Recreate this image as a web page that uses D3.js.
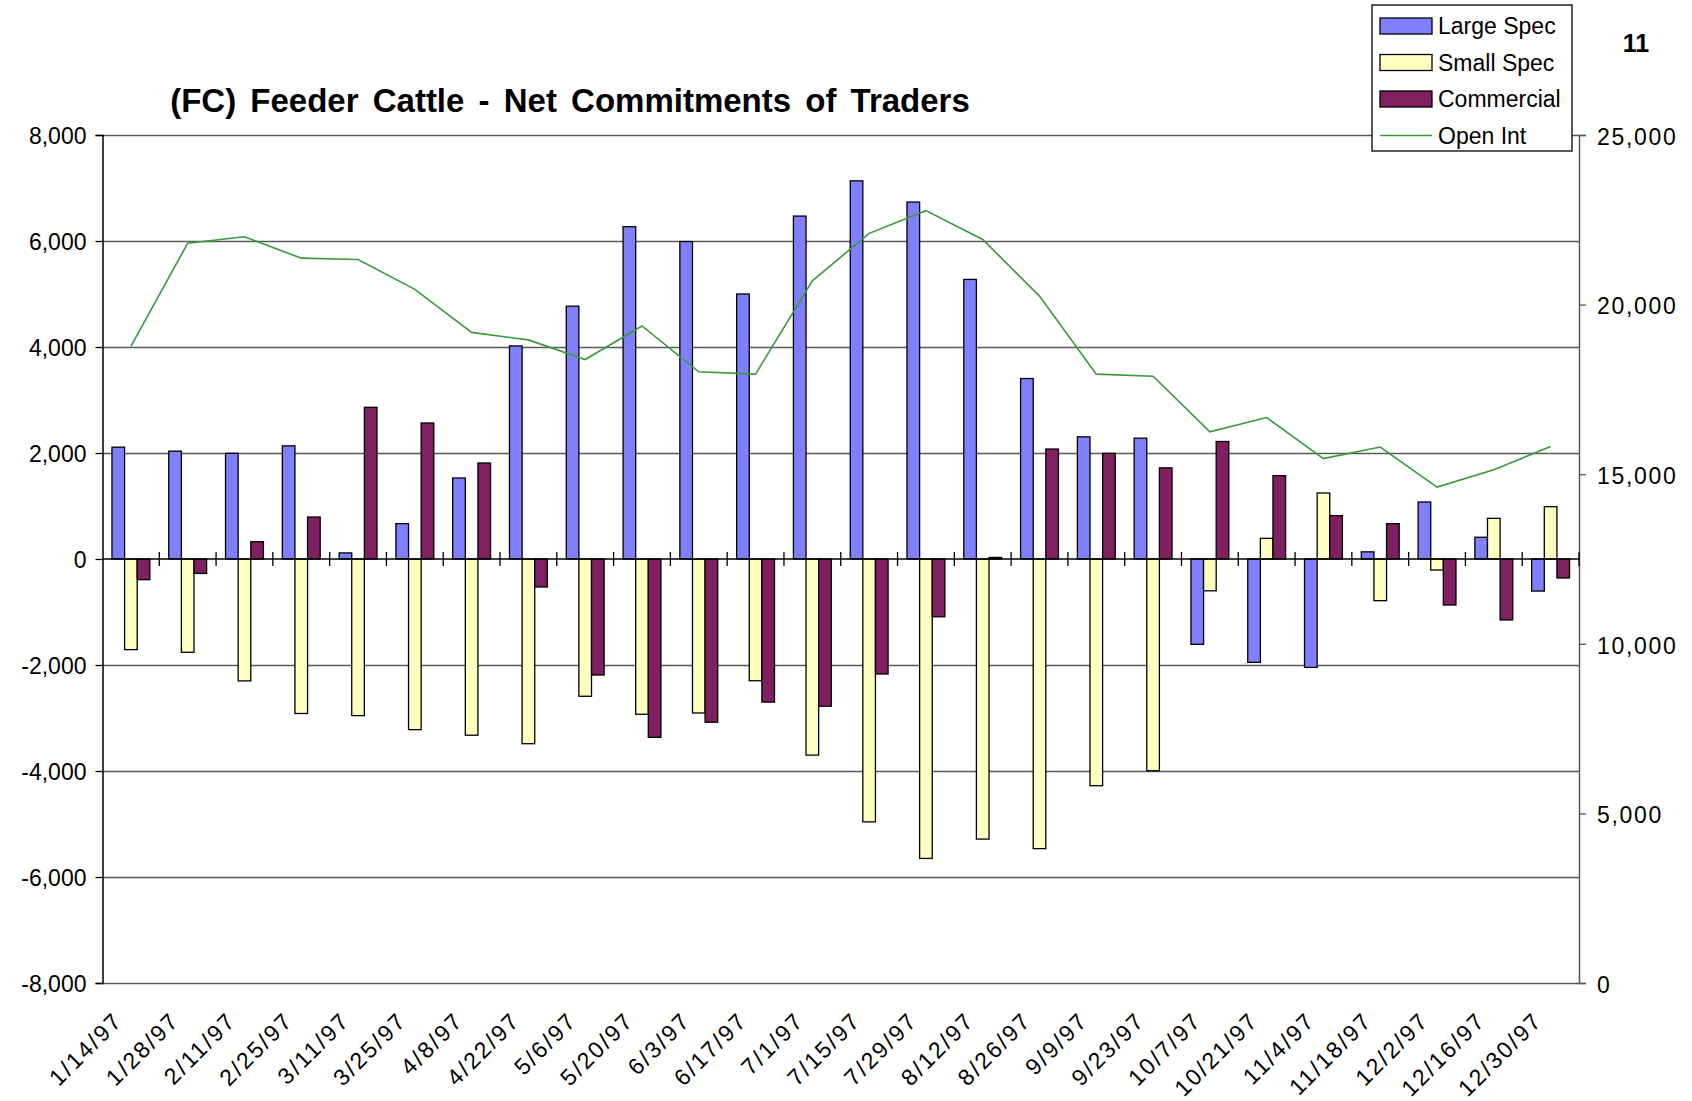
<!DOCTYPE html>
<html>
<head>
<meta charset="utf-8">
<script src="https://cdn.jsdelivr.net/npm/d3@7"></script>
<style>
  body { margin: 0; background: #fff; }
  text { font-family: "Liberation Sans", Arial, sans-serif; fill: #000; }
</style>
</head>
<body>
<div id="chart"></div>
<script>
// categories (weekly report dates)
const dates = ['1/14/97', '1/28/97', '2/11/97', '2/25/97', '3/11/97', '3/25/97', '4/8/97', '4/22/97',
  '5/6/97', '5/20/97', '6/3/97', '6/17/97', '7/1/97', '7/15/97', '7/29/97', '8/12/97', '8/26/97',
  '9/9/97', '9/23/97', '10/7/97', '10/21/97', '11/4/97', '11/18/97', '12/2/97', '12/16/97', '12/30/97'];

const largeSpec = [2110, 2035, 1995, 2135, 115, 667, 1528, 4020, 4770, 6270, 5990, 5000, 6470, 7135,
  6735, 5275, 3405, 2305, 2280, -1610, -1950, -2045, 135, 1075, 410, -605];
const smallSpec = [-1710, -1760, -2300, -2915, -2955, -3220, -3325, -3485, -2590, -2930, -2905, -2297,
  -3700, -4960, -5650, -5285, -5465, -4278, -3995, -600, 390, 1245, -786, -208, 767, 987];
const commercial = [-390, -272, 327, 792, 2862, 2566, 1811, -528, -2189, -3365, -3080, -2700, -2777,
  -2170, -1090, 30, 2075, 1994, 1720, 2217, 1572, 818, 667, -868, -1150, -358];
const openInt = [18770, 21810, 22000, 21370, 21330, 20450, 19180, 18960, 18380, 19370, 18020, 17950,
  20700, 22100, 22770, 21920, 20250, 17950, 17890, 16250, 16670, 15460, 15800, 14620, 15130, 15820];

const leftTicks = [-8000, -6000, -4000, -2000, 0, 2000, 4000, 6000, 8000];
const rightTicks = [0, 5000, 10000, 15000, 20000, 25000];

const seriesNames = ['Large Spec', 'Small Spec', 'Commercial'];
const seriesValues = [largeSpec, smallSpec, commercial];
const seriesColors = ['#8080ff', '#ffffc0', '#802060'];
const lineColor = '#3a9a3a';

const W = 1692, H = 1101;
const margin = { top: 135, right: W - 1579, bottom: H - 983, left: 102.5 };

// thousands separator, plain hyphen for negatives
const fmt = v => d3.format(',')(v).replace('\u2212', '-');

const svg = d3.select('#chart').append('svg')
  .attr('width', W).attr('height', H);

const x = d3.scaleBand().domain(dates).range([margin.left, W - margin.right]).padding(0);
const x1 = d3.scaleBand().domain(seriesNames).range([0, x.bandwidth()])
  .paddingInner(0).paddingOuter(0.75);
const y = d3.scaleLinear().domain([-8000, 8000]).range([H - margin.bottom, margin.top]);
const y2 = d3.scaleLinear().domain([0, 25000]).range([H - margin.bottom, margin.top]);

// gridlines
svg.append('g')
  .selectAll('line')
  .data(leftTicks.filter(t => t !== 0))
  .join('line')
  .attr('x1', margin.left).attr('x2', W - margin.right)
  .attr('y1', d => Math.round(y(d)) + 0.5).attr('y2', d => Math.round(y(d)) + 0.5)
  .attr('stroke', '#5a5a5a').attr('stroke-width', 1.3);

// left axis
const leftAxis = svg.append('g')
  .attr('transform', `translate(${margin.left},0)`)
  .call(d3.axisLeft(y).tickValues(leftTicks).tickFormat(fmt).tickSize(7).tickPadding(9));
leftAxis.select('.domain').attr('stroke', '#000').attr('stroke-width', 1.5);
leftAxis.selectAll('.tick line').attr('stroke', '#000').attr('stroke-width', 1.3);
leftAxis.selectAll('text').style('font-size', '23px').attr('dy', '0.36em');

// right axis
const rightAxis = svg.append('g')
  .attr('transform', `translate(${W - margin.right},0)`)
  .call(d3.axisRight(y2).tickValues(rightTicks).tickFormat(fmt).tickSize(7).tickPadding(11));
rightAxis.select('.domain').attr('stroke', '#555').attr('stroke-width', 1.5);
rightAxis.selectAll('.tick line').attr('stroke', '#555').attr('stroke-width', 1.3);
rightAxis.selectAll('text').style('font-size', '23px').style('letter-spacing', '1.7px').attr('dy', '0.4em');

// bars
const groups = svg.append('g')
  .selectAll('g')
  .data(dates)
  .join('g')
  .attr('transform', d => `translate(${x(d)},0)`);

groups.selectAll('rect')
  .data((d, i) => seriesNames.map((s, k) => ({ s, k, v: seriesValues[k][i] })))
  .join('rect')
  .attr('x', d => x1(d.s))
  .attr('width', x1.bandwidth())
  .attr('y', d => y(Math.max(0, d.v)))
  .attr('height', d => Math.abs(y(d.v) - y(0)))
  .attr('fill', d => seriesColors[d.k])
  .attr('stroke', '#000')
  .attr('stroke-width', 1.3);

// category axis on the zero line, ticks crossing
const zeroY = y(0);
svg.append('line')
  .attr('x1', margin.left).attr('x2', W - margin.right)
  .attr('y1', zeroY).attr('y2', zeroY)
  .attr('stroke', '#000').attr('stroke-width', 1.5);
svg.append('g')
  .selectAll('line')
  .data(dates)
  .join('line')
  .attr('x1', d => x(d) + x.bandwidth())
  .attr('x2', d => x(d) + x.bandwidth())
  .attr('y1', zeroY - 7).attr('y2', zeroY + 7)
  .attr('stroke', '#000').attr('stroke-width', 1.3);

// category labels
svg.append('g')
  .selectAll('text')
  .data(dates)
  .join('text')
  .attr('transform', d => `translate(${x(d) + x.bandwidth() / 2 - 7},1022) rotate(-45)`)
  .attr('text-anchor', 'end')
  .style('font-size', '23px')
  .style('letter-spacing', '2.2px')
  .text(d => d);

// open interest line
svg.append('path')
  .datum(openInt)
  .attr('fill', 'none')
  .attr('stroke', lineColor)
  .attr('stroke-width', 1.6)
  .attr('d', d3.line()
    .x((d, i) => x(dates[i]) + x.bandwidth() / 2)
    .y(d => y2(d)));

// title
svg.append('text')
  .attr('x', 570).attr('y', 112)
  .attr('text-anchor', 'middle')
  .style('font-size', '33px').style('font-weight', 'bold')
  .style('word-spacing', '5px')
  .text('(FC) Feeder Cattle - Net Commitments of Traders');

svg.append('text')
  .attr('x', 1636).attr('y', 52)
  .attr('text-anchor', 'middle')
  .style('font-size', '25px').style('font-weight', 'bold')
  .text('11');

// legend
const legend = svg.append('g').attr('transform', 'translate(1372,5)');
legend.append('rect')
  .attr('width', 200).attr('height', 146)
  .attr('fill', '#fff').attr('stroke', '#000').attr('stroke-width', 1.3);
const legendItems = seriesNames.concat(['Open Int']);
const li = legend.selectAll('g.item')
  .data(legendItems)
  .join('g')
  .attr('class', 'item')
  .attr('transform', (d, i) => `translate(0,${21 + i * 36.5})`);
li.filter((d, i) => i < 3).append('rect')
  .attr('x', 8).attr('y', -8).attr('width', 52).attr('height', 16)
  .attr('fill', (d, i) => seriesColors[i])
  .attr('stroke', '#000').attr('stroke-width', 1.3);
li.filter((d, i) => i === 3).append('line')
  .attr('x1', 8).attr('x2', 60).attr('y1', 0).attr('y2', 0)
  .attr('stroke', lineColor).attr('stroke-width', 1.6);
li.append('text')
  .attr('x', 66).attr('dy', '0.36em')
  .style('font-size', '23px')
  .text(d => d);
</script>
</body>
</html>
